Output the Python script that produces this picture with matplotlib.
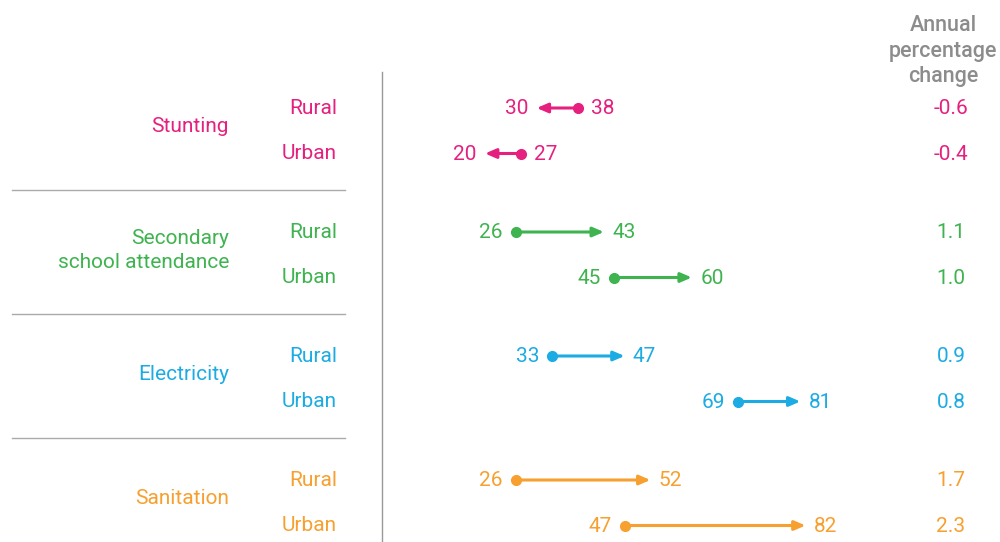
import matplotlib.pyplot as plt
import numpy as np

plt.rcParams['font.family'] = ['Roboto', 'DejaVu Sans']

# Data
groups = ['Stunting', 'Secondary\nschool attendance', 'Electricity', 'Sanitation']
areas = ['Rural', 'Urban']
start_vals = [[38, 27], [26, 45], [33, 69], [26, 47]]
end_vals = [[30, 20], [43, 60], [47, 81], [52, 82]]
annual_change = [['-0.6', '-0.4'], ['1.1', '1.0'], ['0.9', '0.8'], ['1.7', '2.3']]
colors = ['#E5207F', '#3FB34F', '#1CABE2', '#F7A030']

fig = plt.figure(figsize=(10, 5.42), dpi=100)
ax = fig.add_axes([0, 0, 1, 1])
# x in data units, y in pixel-like units from the top
px_per_unit = 5.17
x0_px = 381.6
ax.set_xlim(-x0_px / px_per_unit, (1000 - x0_px) / px_per_unit)
ax.set_ylim(542, 0)
ax.axis('off')
tr = ax.get_yaxis_transform()  # x axes fraction, y data

row_top, group_gap, row_gap = 108, 124, 45.5
fs = 15

for g, grp in enumerate(groups):
    c = colors[g]
    ys = [row_top + g * group_gap + r * row_gap for r in range(2)]
    ax.text(0.229, np.mean(ys) - 4, grp, transform=tr, ha='right', va='center',
            color=c, fontsize=fs, linespacing=1.3)
    for r, area in enumerate(areas):
        y = ys[r]
        s, e = start_vals[g][r], end_vals[g][r]
        ax.text(0.337, y, area, transform=tr, ha='right', va='center',
                color=c, fontsize=fs)
        ax.annotate('', xy=(e, y), xytext=(s, y),
                    arrowprops=dict(arrowstyle='-|>,head_length=0.65,head_width=0.28',
                                    color=c, lw=2.2, shrinkA=0, shrinkB=0))
        ax.plot(s, y, 'o', color=c, ms=7, zorder=3)
        d = 1 if e > s else -1
        ax.annotate(str(s), xy=(s, y + 1), xytext=(-9.5 * d, 0), textcoords='offset points',
                    ha='right' if d > 0 else 'left', va='center', color=c,
                    fontsize=fs)
        ax.annotate(str(e), xy=(e, y + 1), xytext=(6 * d, 0), textcoords='offset points',
                    ha='left' if d > 0 else 'right', va='center', color=c,
                    fontsize=fs)
        ax.text(0.951, y + 1, annual_change[g][r], transform=tr, ha='center', va='center',
                color=c, fontsize=fs)
    if g > 0:
        ysep = row_top + g * group_gap - 42.5
        ax.plot([0.012, 0.345], [ysep, ysep], transform=tr, color='#AAAAAA', lw=1)

ax.plot([0, 0], [72, 542], color='#999999', lw=1)
ax.text(0.943, 51, 'Annual\npercentage\nchange', transform=tr, ha='center', va='center',
        color='#8C8C8C', fontsize=15.5, fontweight='medium', linespacing=1.3)

plt.savefig('out.png', dpi=100)
